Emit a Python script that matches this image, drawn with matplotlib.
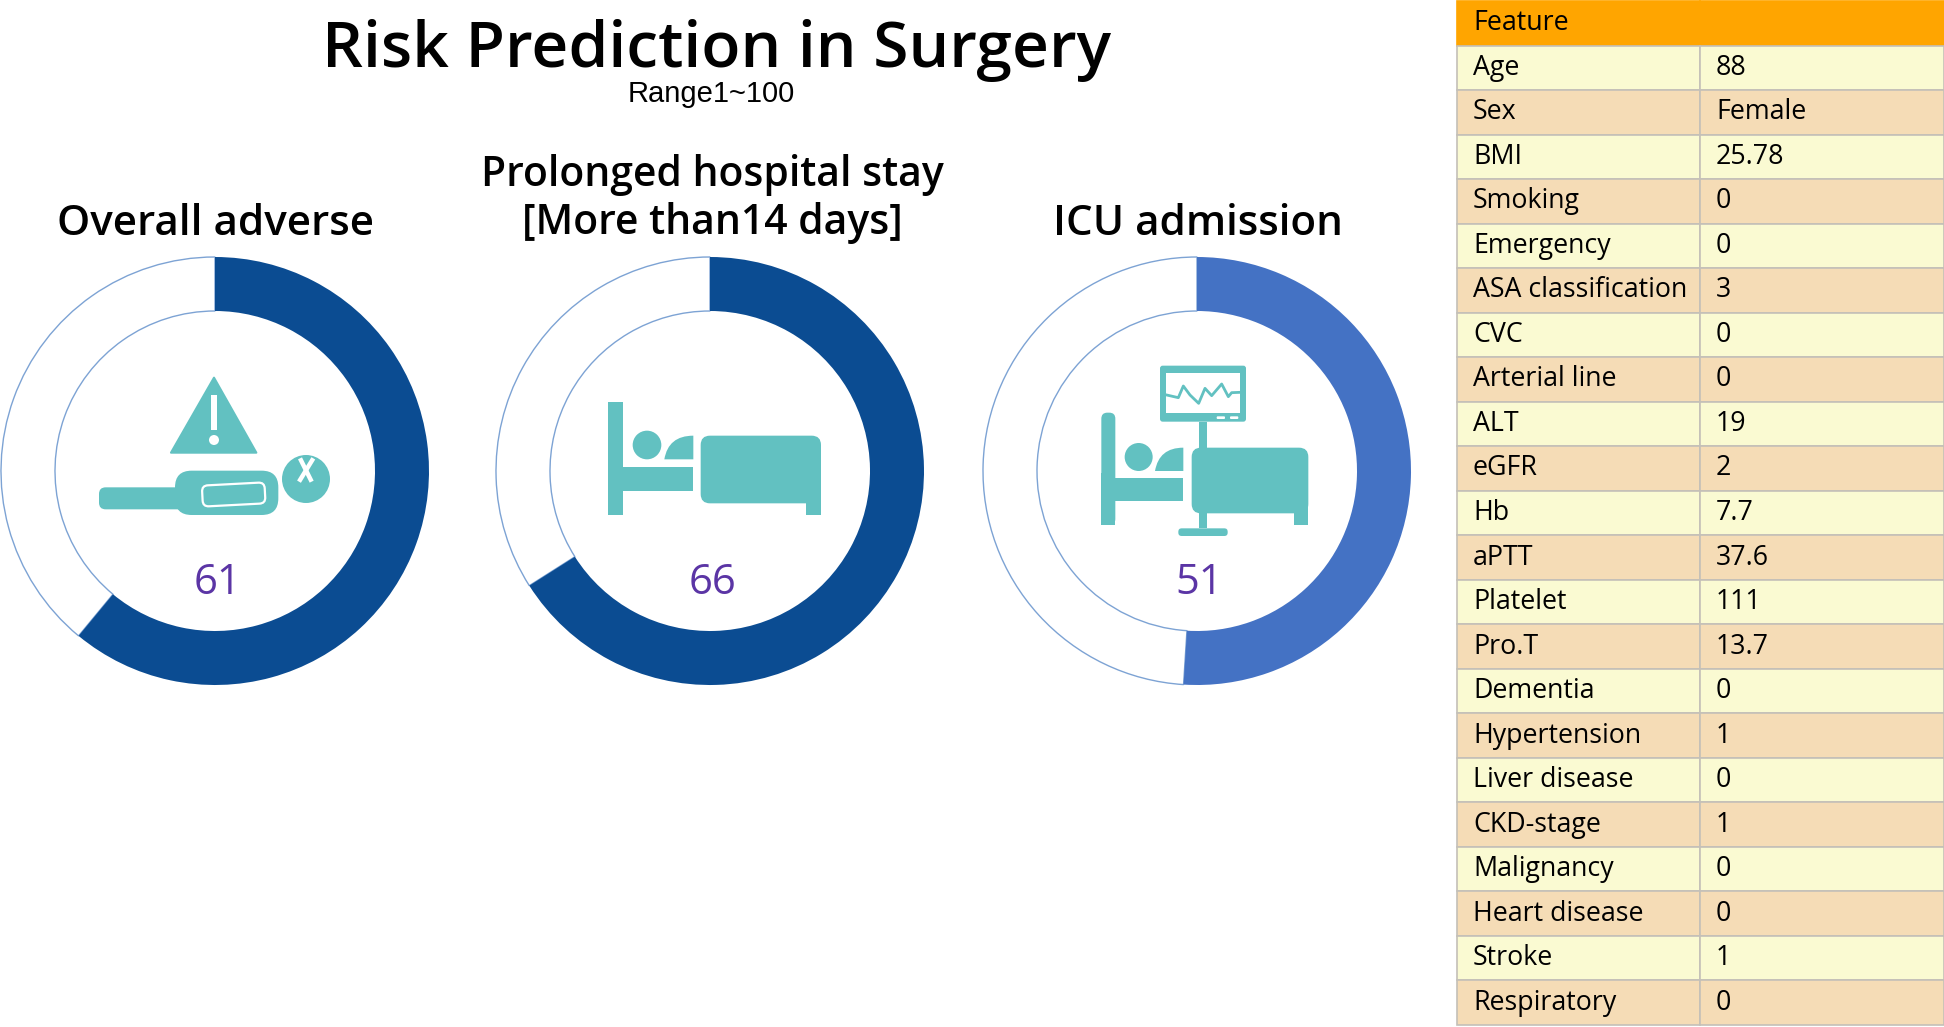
import matplotlib
matplotlib.use('Agg')
import matplotlib.pyplot as plt
from matplotlib.patches import Circle, FancyBboxPatch, PathPatch, Polygon, Rectangle
from matplotlib.path import Path
from matplotlib.transforms import Affine2D

W, H = 1944, 1027

risk_names = ['Overall adverse', 'Prolonged hospital stay\n[More than14 days]', 'ICU admission']
risk_scores = [61, 66, 51]
risk_colors = ['#0b4c92', '#0b4c92', '#4472c4']

features = ['Age', 'Sex', 'BMI', 'Smoking', 'Emergency', 'ASA classification', 'CVC',
            'Arterial line', 'ALT', 'eGFR', 'Hb', 'aPTT', 'Platelet', 'Pro.T', 'Dementia',
            'Hypertension', 'Liver disease', 'CKD-stage', 'Malignancy', 'Heart disease',
            'Stroke', 'Respiratory']
feature_values = ['88', 'Female', '25.78', '0', '0', '3', '0', '0', '19', '2', '7.7', '37.6',
                  '111', '13.7', '0', '1', '0', '1', '0', '0', '1', '0']

TEAL = '#62c1c1'
RING = '#7da3d4'
FONT = 'Open Sans'

fig = plt.figure(figsize=(W / 100, H / 100), dpi=100)
ax = fig.add_axes([0, 0, 1, 1])


# icon coordinates were measured on 3x crops, origin (ox, oy) in image pixels
def Z(x, y, ox, oy):
    return ox + x / 3, H - (oy + y / 3)


def Box(x0, y0, x1, y1, ox, oy, r=0, color=TEAL, zorder=3, transform=None):
    a = Z(x0, y1, ox, oy)
    w, h = (x1 - x0) / 3, (y1 - y0) / 3
    if r == 0:
        p = Rectangle(a, w, h, fc=color, ec='none', zorder=zorder)
    else:
        p = FancyBboxPatch(a, w, h, boxstyle=f'round,pad=0,rounding_size={r / 3}',
                           fc=color, ec='none', zorder=zorder)
    if transform is not None:
        p.set_transform(transform + ax.transData)
    ax.add_patch(p)
    return p


def Dot(x, y, r, ox, oy, color=TEAL, zorder=3):
    ax.add_patch(Circle(Z(x, y, ox, oy), r / 3, fc=color, ec='none', zorder=zorder))


def Pillow(x0, y0, x1, y1, ox, oy):
    verts = [Z(x0, y1, ox, oy), Z(x0 + 12, y0, ox, oy), Z(x1, y0, ox, oy), Z(x1, y1, ox, oy), Z(x0, y1, ox, oy)]
    codes = [Path.MOVETO, Path.CURVE3, Path.CURVE3, Path.LINETO, Path.CLOSEPOLY]
    ax.add_patch(PathPatch(Path(verts, codes), fc=TEAL, ec='none', zorder=3))


def Warning_Icon(ox=0, oy=240):
    ax.add_patch(Polygon([Z(642, 413, ox, oy), Z(769, 638, ox, oy), Z(513, 638, ox, oy)],
                         fc=TEAL, ec=TEAL, lw=1.5, joinstyle='round', zorder=3))
    Box(632, 465, 652, 570, ox, oy, color='white', zorder=4)
    Dot(642, 600, 15, ox, oy, color='white', zorder=4)
    # lying patient
    Box(297, 742, 560, 808, ox, oy, r=20)
    Box(525, 692, 835, 825, ox, oy, r=50)
    cx, cy = Z(700, 763, ox, oy)
    rot = Affine2D().rotate_deg_around(cx, cy, 3)
    inner = Box(607, 732, 795, 795, ox, oy, r=18, color=TEAL, zorder=4, transform=rot)
    inner.set_edgecolor('white')
    inner.set_linewidth(1.6)
    Dot(918, 717, 72, ox, oy)
    for a, b in [((900, 655), (935, 725)), ((940, 655), (897, 725))]:
        ax.plot(*zip(Z(*a, ox, oy), Z(*b, ox, oy)), color='white', lw=3.2, zorder=4, solid_capstyle='butt')


def Bed_Icon(ox=480, oy=340):
    Box(385, 185, 430, 525, ox, oy)
    Box(430, 382, 640, 453, ox, oy)
    Dot(501, 315, 43, ox, oy)
    Pillow(553, 287, 640, 358, ox, oy)
    Box(662, 287, 1023, 490, ox, oy, r=28)
    Box(978, 440, 1023, 525, ox, oy)


def Monitor_Icon(ox=960, oy=240):
    Box(424, 518, 466, 855, ox, oy, r=18)
    Box(424, 700, 466, 855, ox, oy)
    Box(466, 715, 670, 783, ox, oy)
    Dot(536, 651, 42, ox, oy)
    Pillow(585, 623, 670, 693, ox, oy)
    Box(695, 623, 1045, 820, ox, oy, r=28)
    Box(1002, 770, 1045, 855, ox, oy)
    Box(717, 545, 741, 865, ox, oy)
    Box(655, 865, 803, 888, ox, oy, r=10)
    Box(600, 377, 858, 545, ox, oy, r=8)
    Box(618, 400, 840, 520, ox, oy, color='white', zorder=4)
    Box(770, 529, 795, 537, ox, oy, r=3, color='white', zorder=4)
    Box(810, 529, 835, 537, ox, oy, r=3, color='white', zorder=4)
    ecg_x = [620, 655, 670, 690, 716, 735, 755, 785, 805, 815, 840]
    ecg_y = [465, 473, 438, 465, 490, 445, 467, 432, 470, 458, 457]
    pts = [Z(a, b, ox, oy) for a, b in zip(ecg_x, ecg_y)]
    ax.plot(*zip(*pts), color=TEAL, lw=2, zorder=5)


# title block
ax.text(716, H - 50, 'Risk Prediction in Surgery', fontsize=46.2, family=FONT, weight=600,
        ha='center', va='center', color='black')
ax.text(711, H - 94, 'Range1~100', fontsize=21, family='Liberation Sans', ha='center', va='center', color='black')

# donuts
centers_x = [215, 710, 1197]
title_x = [215, 712, 1198]
for i in range(3):
    cx = centers_x[i]
    cy = H - 471
    ax.pie([risk_scores[i], 100 - risk_scores[i]], colors=[risk_colors[i], 'white'], startangle=90,
           counterclock=False, center=(cx, cy), radius=214,
           wedgeprops={'width': 54, 'linewidth': 0})
    # thin outline on the unfilled part of the ring
    ax.patches[-1].set_edgecolor(RING)
    ax.patches[-1].set_linewidth(1.0)
    ax.patches[-1].set_zorder(0.5)
    ax.patches[-2].set_zorder(1)
    if '\n' in risk_names[i]:
        ax.text(title_x[i], H - 199, risk_names[i], fontsize=29.4, family=FONT, weight=600, ha='center',
                va='center', linespacing=1.16, color='black')
    else:
        ax.text(title_x[i], H - 224, risk_names[i], fontsize=30.3, family=FONT, weight=600, ha='center',
                va='center', color='black')
    ax.text(cx + 2, H - 583, str(risk_scores[i]), fontsize=30, family=FONT, ha='center', va='center', color='#5b35a5')

Warning_Icon()
Bed_Icon()
Monitor_Icon()

ax.set_xlim(0, W)
ax.set_ylim(0, H)
ax.set_aspect('auto')
ax.axis('off')

# feature table
rows = [['Feature', '']] + [[f, v] for f, v in zip(features, feature_values)]
tab_box = [1457 / W, (H - 1025) / H, (W - 1457) / W, 1024 / H]
tab = ax.table(cellText=rows, cellLoc='left', colWidths=[243, 244], bbox=tab_box)
tab.auto_set_font_size(False)
for (r, c), cell in tab.get_celld().items():
    cell.PAD = 16 / 243
    cell.set_edgecolor('#c4c0b8')
    cell.set_linewidth(1.2)
    if r == 0:
        cell.set_facecolor('#ffa500')
        cell.set_edgecolor('#ffa500')
    elif r % 2 == 1:
        cell.set_facecolor('#fafad2')
    else:
        cell.set_facecolor('#f5dcb6')
    cell.get_text().set_fontsize(19.3)
    cell.get_text().set_fontfamily(FONT)
    cell.get_text().set_color('black')

fig.savefig('out.png', dpi=100, facecolor='white')
